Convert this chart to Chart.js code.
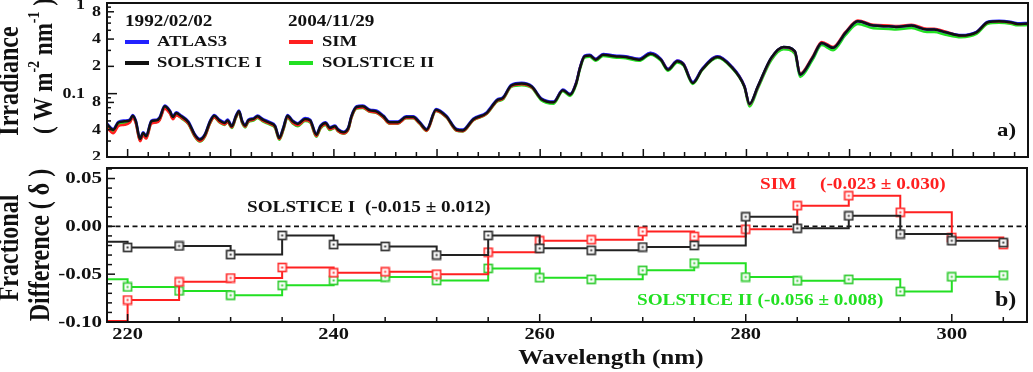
<!DOCTYPE html>
<html>
<head>
<meta charset="utf-8">
<script src="https://cdn.jsdelivr.net/npm/chart.js@4.4.1/dist/chart.umd.min.js"></script>
<style>
  html, body { margin: 0; padding: 0; background: #fff; }
  #fig { position: relative; width: 1033px; height: 372px; overflow: hidden; }
  .panel { position: absolute; left: 0; width: 1033px; }
  #panelA { top: 0; height: 160px; }
  #panelB { top: 160px; height: 212px; }
</style>
</head>
<body>
<div id="fig">
  <div class="panel" id="panelA"><canvas id="spectrumChart"></canvas></div>
  <div class="panel" id="panelB"><canvas id="deltaChart"></canvas></div>
</div>
<script>
// panel a) irradiance spectra, W m-2 nm-1
const wavelength = [
  218.0, 218.6, 219.1, 219.7, 220.2, 220.5, 220.8, 221.2, 221.5, 221.8,
  222.3, 222.8, 223.1, 223.6, 224.1, 224.4, 224.7, 225.2, 225.9, 226.5,
  227.0, 227.5, 228.0, 228.4, 228.9, 229.4, 229.7, 230.1, 230.5, 230.8,
  231.1, 231.4, 231.7, 232.2, 232.6, 233.1, 233.8, 234.3, 234.7, 235.1,
  235.5, 236.0, 236.5, 237.2, 237.7, 238.3, 238.7, 239.2, 239.6, 240.1,
  240.4, 240.9, 241.4, 241.7, 242.2, 242.8, 243.5, 244.1, 244.8, 245.4,
  246.2, 247.0, 247.7, 248.3, 249.0, 249.9, 250.9, 251.9, 252.5, 253.5,
  254.8, 255.8, 256.4, 257.2, 258.2, 259.2, 260.1, 261.3, 262.2, 262.9,
  263.5, 263.85, 264.3, 264.8, 265.4, 266.1, 267.2, 268.3, 269.6, 270.7,
  271.7, 272.4, 273.3, 273.9, 274.8, 275.7, 277.2, 278.5, 279.8, 280.3,
  281.1, 282.4, 283.6, 284.7, 285.2, 286.4, 287.3, 288.4, 289.6, 290.8,
  292.3, 293.8, 294.5, 296.0, 297.5, 298.2, 299.3, 300.8, 302.3, 303.4,
  304.5, 305.6, 306.3, 307.3,
];
const solstice1 = [
  0.046, 0.040, 0.048, 0.0495, 0.0507, 0.0572, 0.0495, 0.0316, 0.0368, 0.0338,
  0.0495, 0.0507, 0.0539, 0.0724, 0.0638, 0.0553, 0.0612, 0.0562, 0.0482, 0.0353,
  0.0311, 0.0353, 0.0495, 0.0572, 0.0507, 0.0475, 0.0507, 0.0436, 0.0562, 0.0638,
  0.0495, 0.0443, 0.0507, 0.0526, 0.0562, 0.0516, 0.0475, 0.0436, 0.0324, 0.0418,
  0.0572, 0.0495, 0.0463, 0.0526, 0.0507, 0.0353, 0.0436, 0.0475, 0.0418, 0.0436,
  0.0400, 0.0374, 0.0418, 0.0562, 0.0713, 0.0724, 0.0654, 0.0638, 0.0562, 0.0482,
  0.0482, 0.0553, 0.0553, 0.0482, 0.0400, 0.0666, 0.0562, 0.0400, 0.0393, 0.0520,
  0.0610, 0.0840, 0.0897, 0.123, 0.129, 0.119, 0.0874, 0.0802, 0.109, 0.0975,
  0.131, 0.190, 0.258, 0.263, 0.237, 0.269, 0.258, 0.254, 0.237, 0.276,
  0.237, 0.184, 0.227, 0.209, 0.131, 0.184, 0.254, 0.200, 0.120, 0.077,
  0.120, 0.248, 0.328, 0.293, 0.162, 0.248, 0.363, 0.320, 0.468, 0.628,
  0.563, 0.553, 0.545, 0.563, 0.509, 0.509, 0.475, 0.437, 0.475, 0.612,
  0.628, 0.612, 0.588, 0.593,
];
const atlas3 = [
  0.0469, 0.0408, 0.049, 0.0505, 0.0517, 0.0583, 0.0505, 0.0322, 0.0375, 0.0345,
  0.0505, 0.0517, 0.055, 0.0738, 0.0651, 0.0564, 0.0624, 0.0573, 0.0492, 0.036,
  0.0317, 0.036, 0.0505, 0.0583, 0.0517, 0.0485, 0.0517, 0.0445, 0.0573, 0.0651,
  0.0505, 0.0452, 0.0517, 0.0537, 0.0573, 0.0526, 0.0485, 0.0445, 0.033, 0.0426,
  0.0583, 0.0505, 0.0472, 0.0537, 0.0517, 0.036, 0.0445, 0.0485, 0.0426, 0.0445,
  0.0408, 0.0381, 0.0426, 0.0573, 0.0727, 0.0738, 0.0667, 0.0651, 0.0573, 0.0492,
  0.0492, 0.0564, 0.0564, 0.0492, 0.0408, 0.0679, 0.0573, 0.0408, 0.0401, 0.053,
  0.0622, 0.0857, 0.0915, 0.125, 0.132, 0.121, 0.0891, 0.0818, 0.111, 0.0995,
  0.134, 0.194, 0.263, 0.268, 0.242, 0.274, 0.263, 0.259, 0.242, 0.282,
  0.242, 0.188, 0.232, 0.213, 0.134, 0.188, 0.259, 0.204, 0.122, 0.077,
  0.120, 0.248, 0.328, 0.293, 0.162, 0.248, 0.363, 0.320, 0.468, 0.628,
  0.563, 0.553, 0.545, 0.563, 0.509, 0.509, 0.475, 0.444, 0.482, 0.621,
  0.637, 0.621, 0.597, 0.602,
];
const sim = [
  0.0421, 0.0366, 0.0439, 0.0453, 0.0479, 0.054, 0.0467, 0.0298, 0.0347, 0.0319,
  0.0467, 0.0479, 0.0509, 0.0683, 0.0602, 0.0522, 0.0578, 0.0541, 0.0464, 0.034,
  0.0299, 0.034, 0.0476, 0.055, 0.0488, 0.0457, 0.0488, 0.0425, 0.0548, 0.0622,
  0.0483, 0.0432, 0.0494, 0.0513, 0.0548, 0.0503, 0.0463, 0.0425, 0.0316, 0.0404,
  0.0553, 0.0478, 0.0447, 0.0508, 0.049, 0.0341, 0.0421, 0.0459, 0.0404, 0.0423,
  0.0388, 0.0363, 0.0405, 0.0545, 0.0692, 0.0702, 0.0634, 0.0619, 0.0545, 0.0469,
  0.0469, 0.0538, 0.0538, 0.0469, 0.0389, 0.0648, 0.0551, 0.0392, 0.0385, 0.051,
  0.0598, 0.0825, 0.0881, 0.121, 0.127, 0.117, 0.0881, 0.0808, 0.11, 0.0983,
  0.132, 0.192, 0.26, 0.265, 0.24, 0.272, 0.261, 0.257, 0.24, 0.281,
  0.241, 0.187, 0.231, 0.213, 0.133, 0.186, 0.257, 0.202, 0.121, 0.076,
  0.118, 0.245, 0.324, 0.289, 0.166, 0.254, 0.372, 0.328, 0.479, 0.641,
  0.575, 0.565, 0.556, 0.576, 0.521, 0.521, 0.486, 0.438, 0.476, 0.614,
  0.63, 0.611, 0.587, 0.592,
];
const solstice2 = [
  0.0442, 0.0384, 0.0461, 0.0475, 0.0486, 0.0548, 0.0474, 0.0303, 0.0353, 0.0324,
  0.0474, 0.0486, 0.0516, 0.0694, 0.0611, 0.053, 0.0586, 0.0535, 0.0459, 0.0336,
  0.0296, 0.0336, 0.0471, 0.0545, 0.0483, 0.0452, 0.0483, 0.0417, 0.0538, 0.0611,
  0.0474, 0.0424, 0.0485, 0.0503, 0.0538, 0.0494, 0.0455, 0.0417, 0.031, 0.0396,
  0.0542, 0.0469, 0.0438, 0.0498, 0.048, 0.0334, 0.0413, 0.045, 0.0396, 0.0419,
  0.0385, 0.036, 0.0402, 0.0541, 0.0686, 0.0696, 0.0629, 0.0614, 0.0541, 0.0466,
  0.0466, 0.0535, 0.0535, 0.0466, 0.0387, 0.0644, 0.0547, 0.0389, 0.0382, 0.0506,
  0.0594, 0.0811, 0.0866, 0.119, 0.124, 0.115, 0.0846, 0.0776, 0.106, 0.0944,
  0.127, 0.184, 0.25, 0.255, 0.23, 0.261, 0.25, 0.246, 0.23, 0.269,
  0.231, 0.179, 0.221, 0.204, 0.128, 0.181, 0.249, 0.196, 0.118, 0.0722,
  0.113, 0.233, 0.308, 0.275, 0.153, 0.234, 0.343, 0.302, 0.442, 0.587,
  0.526, 0.517, 0.51, 0.529, 0.478, 0.478, 0.447, 0.42, 0.457, 0.589,
  0.604, 0.591, 0.567, 0.572,
];

// panel b) fractional difference vs ATLAS3, 5 nm bins
const binWavelength = [215, 220, 225, 230, 235, 240, 245, 250, 255, 260, 265, 270, 275, 280, 285, 290, 295, 300, 305];
const deltaSolstice1 = [-0.016, -0.022, -0.0205, -0.0295, -0.0095, -0.019, -0.021, -0.030, -0.0095, -0.023, -0.025, -0.0216, -0.020, 0.010, -0.002, 0.011, -0.008, -0.015, -0.017];
const deltaSim = [-0.099, -0.077, -0.058, -0.054, -0.043, -0.0485, -0.0475, -0.050, -0.027, -0.015, -0.014, -0.0054, -0.0105, -0.003, 0.0216, 0.032, 0.0147, -0.0116, -0.019];
const deltaSolstice2 = [-0.0554, -0.0634, -0.0675, -0.072, -0.0617, -0.0565, -0.053, -0.0565, -0.044, -0.0537, -0.0554, -0.046, -0.0385, -0.053, -0.057, -0.0554, -0.068, -0.0527, -0.051];

// axis ticks
const irrTicks = [0.02, 0.04, 0.08, 0.1, 0.2, 0.4, 0.8, 1];
const irrTickLabels = ['2', '4', '8', '0.1', '2', '4', '8', '1'];
const waveTicks = [220, 240, 260, 280, 300];
const deltaTicks = [0.05, 0, -0.05, -0.10];
const deltaTickLabels = ['0.05', '0.00', '-0.05', '-0.10'];

const FONT = '"Liberation Serif", "Times New Roman", serif';
const SX = 1.2; // the source figure's type is a bit wide
const INK = '#111';
const RED = '#ff2020';
const GREEN = '#22e022';
const BLUE = '#2222ff';

function label(ctx, str, x, y, size, color = INK, align = 'left', baseline = 'middle') {
  ctx.save();
  ctx.font = `bold ${size}px ${FONT}`;
  ctx.fillStyle = color;
  ctx.textAlign = align;
  ctx.textBaseline = baseline;
  ctx.translate(x, y);
  ctx.scale(SX, 1);
  ctx.fillText(str, 0, 0);
  ctx.restore();
}

// rotated axis title, parts may be superscripts
function vlabel(ctx, parts, x, y, size) {
  ctx.save();
  ctx.translate(x, y);
  ctx.scale(SX, 1);
  ctx.rotate(-Math.PI / 2);
  ctx.fillStyle = INK;
  ctx.textBaseline = 'middle';
  ctx.textAlign = 'left';
  const fontOf = p => `bold ${p.sup ? Math.round(size * 0.6) : size}px ${FONT}`;
  let total = 0;
  parts.forEach(p => { ctx.font = fontOf(p); total += ctx.measureText(p.t).width; });
  let cx = -total / 2;
  parts.forEach(p => {
    ctx.font = fontOf(p);
    ctx.fillText(p.t, cx, p.sup ? -size * 0.36 : 0);
    cx += ctx.measureText(p.t).width;
  });
  ctx.restore();
}

function seg(ctx, x1, y1, x2, y2, width = 1.5, color = INK) {
  ctx.save();
  ctx.strokeStyle = color;
  ctx.lineWidth = width;
  ctx.beginPath();
  ctx.moveTo(x1, y1);
  ctx.lineTo(x2, y2);
  ctx.stroke();
  ctx.restore();
}

function frame(ctx, a) {
  ctx.save();
  ctx.strokeStyle = INK;
  ctx.lineWidth = 2;
  ctx.strokeRect(a.left, a.top, a.right - a.left, a.bottom - a.top);
  ctx.restore();
}

const spectrumDecor = {
  id: 'spectrumDecor',
  afterDraw(chart) {
    const { ctx, chartArea: a, scales: { x, y } } = chart;
    frame(ctx, a);
    for (let w = 218; w <= 307; w += 2) {
      const px = x.getPixelForValue(w);
      seg(ctx, px, a.bottom, px, a.bottom - (w % 10 === 0 ? 8 : 5));
    }
    [0.01, 0.1].forEach(dec => {
      for (let k = 1; k <= 9; k++) {
        const v = k * dec;
        if (v < 0.0199) continue;
        const py = y.getPixelForValue(v);
        const len = k === 1 ? 10 : (k === 2 || k === 4 || k === 8 ? 7 : 4);
        seg(ctx, a.left, py, a.left + len, py);
      }
    });
    seg(ctx, a.left, y.getPixelForValue(1), a.left + 10, y.getPixelForValue(1));
    irrTicks.forEach((v, i) => {
      const major = v === 0.1 || v === 1;
      // the top label sits half above the canvas, as in the source figure
      const py = Math.max(y.getPixelForValue(v), 5);
      label(ctx, irrTickLabels[i], major ? 85 : 101, py, 15, INK, 'right');
    });

    // legend
    label(ctx, '1992/02/02', 125, 22, 16);
    label(ctx, '2004/11/29', 288, 22, 16);
    seg(ctx, 125, 42, 149, 42, 4, BLUE);
    seg(ctx, 125, 63, 149, 63, 4, INK);
    seg(ctx, 289, 42, 313, 42, 4, RED);
    seg(ctx, 289, 63, 313, 63, 4, GREEN);
    label(ctx, 'ATLAS3', 157, 42, 15.5);
    label(ctx, 'SOLSTICE I', 157, 63, 15.5);
    label(ctx, 'SIM', 322, 42, 15.5);
    label(ctx, 'SOLSTICE II', 322, 63, 15.5);
    label(ctx, 'a)', 997, 131, 19);

    vlabel(ctx, [{ t: 'Irradiance' }], 11, 81, 24);
    vlabel(ctx, [{ t: '( W m' }, { t: '-2', sup: true }, { t: ' nm' }, { t: '-1', sup: true }, { t: ' )' }], 45, 66, 23);
  },
};

const zeroLine = {
  id: 'zeroLine',
  beforeDatasetsDraw(chart) {
    const { ctx, chartArea: a, scales: { y } } = chart;
    const py = y.getPixelForValue(0);
    ctx.save();
    ctx.setLineDash([5, 3.5]);
    seg(ctx, a.left, py, a.right, py, 1.8);
    ctx.restore();
  },
};

const deltaDecor = {
  id: 'deltaDecor',
  afterDraw(chart) {
    const { ctx, chartArea: a, scales: { x, y } } = chart;
    frame(ctx, a);
    for (let w = 220; w <= 305; w += 5) {
      const px = x.getPixelForValue(w);
      seg(ctx, px, a.bottom, px, a.bottom - (w % 20 === 0 ? 8 : 5));
    }
    for (let i = -10; i <= 6; i++) {
      const py = y.getPixelForValue(i / 100);
      seg(ctx, a.left, py, a.left + (i % 5 === 0 ? 8 : 5), py);
    }
    waveTicks.forEach(w => label(ctx, String(w), x.getPixelForValue(w), 175, 17, INK, 'center'));
    deltaTicks.forEach((v, i) => label(ctx, deltaTickLabels[i], 102, y.getPixelForValue(v), 17.5, INK, 'right'));

    label(ctx, 'Wavelength (nm)', 611, 204, 21, INK, 'center', 'alphabetic');
    vlabel(ctx, [{ t: 'Fractional' }], 11, 88, 24);
    vlabel(ctx, [{ t: 'Difference ( δ )' }], 42, 85, 24);

    label(ctx, 'SOLSTICE I  (-0.015 ± 0.012)', 247, 48, 16);
    label(ctx, 'SIM', 760, 25, 16, RED);
    label(ctx, '(-0.023 ± 0.030)', 820, 25, 16, RED);
    label(ctx, 'SOLSTICE II (-0.056 ± 0.008)', 637, 141, 16, GREEN);
    label(ctx, 'b)', 995, 141, 20);
  },
};

function marker(color) {
  const c = document.createElement('canvas');
  c.width = 11;
  c.height = 11;
  const g = c.getContext('2d');
  g.fillStyle = '#fff';
  g.fillRect(1, 1, 9, 9);
  g.strokeStyle = color;
  g.lineWidth = 1.7;
  g.strokeRect(1.5, 1.5, 8, 8);
  g.fillStyle = color;
  g.fillRect(4.5, 4.5, 2, 2);
  return c;
}

const common = {
  responsive: true,
  maintainAspectRatio: false,
  animation: false,
  events: [],
  plugins: { legend: { display: false }, tooltip: { enabled: false } },
};

const spectra = [
  [solstice1, INK],
  [atlas3, BLUE],
  [sim, RED],
  [solstice2, GREEN],
];

new Chart(document.getElementById('spectrumChart'), {
  type: 'line',
  data: {
    datasets: spectra.map(([values, color], i) => ({
      data: wavelength.map((w, j) => ({ x: w, y: values[j] })),
      borderColor: color,
      borderWidth: 2.5,
      pointRadius: 0,
      cubicInterpolationMode: 'monotone',
      fill: false,
      order: i,
    })),
  },
  options: {
    ...common,
    layout: { padding: { left: 107, right: 5, top: 3, bottom: 3 } },
    scales: {
      x: { type: 'linear', min: 218, max: 307.3, display: false },
      y: { type: 'logarithmic', min: 0.02, max: 1, display: false },
    },
  },
  plugins: [spectrumDecor],
});

const deltas = [
  [deltaSolstice1, '#222', '#333'],
  [deltaSim, RED, '#f33'],
  [deltaSolstice2, GREEN, '#3c3'],
];

new Chart(document.getElementById('deltaChart'), {
  type: 'line',
  data: {
    datasets: deltas.map(([values, color, mark], i) => ({
      data: binWavelength.map((w, j) => ({ x: w, y: values[j] })),
      borderColor: color,
      borderWidth: 2,
      stepped: 'before',
      pointStyle: marker(mark),
      pointRadius: 4,
      fill: false,
      order: i,
    })),
  },
  options: {
    ...common,
    layout: { padding: { left: 107, right: 5, top: 8, bottom: 50 } },
    scales: {
      x: { type: 'linear', min: 218, max: 307.3, display: false },
      y: { type: 'linear', min: -0.10, max: 0.061, display: false },
    },
  },
  plugins: [zeroLine, deltaDecor],
});
</script>
</body>
</html>
